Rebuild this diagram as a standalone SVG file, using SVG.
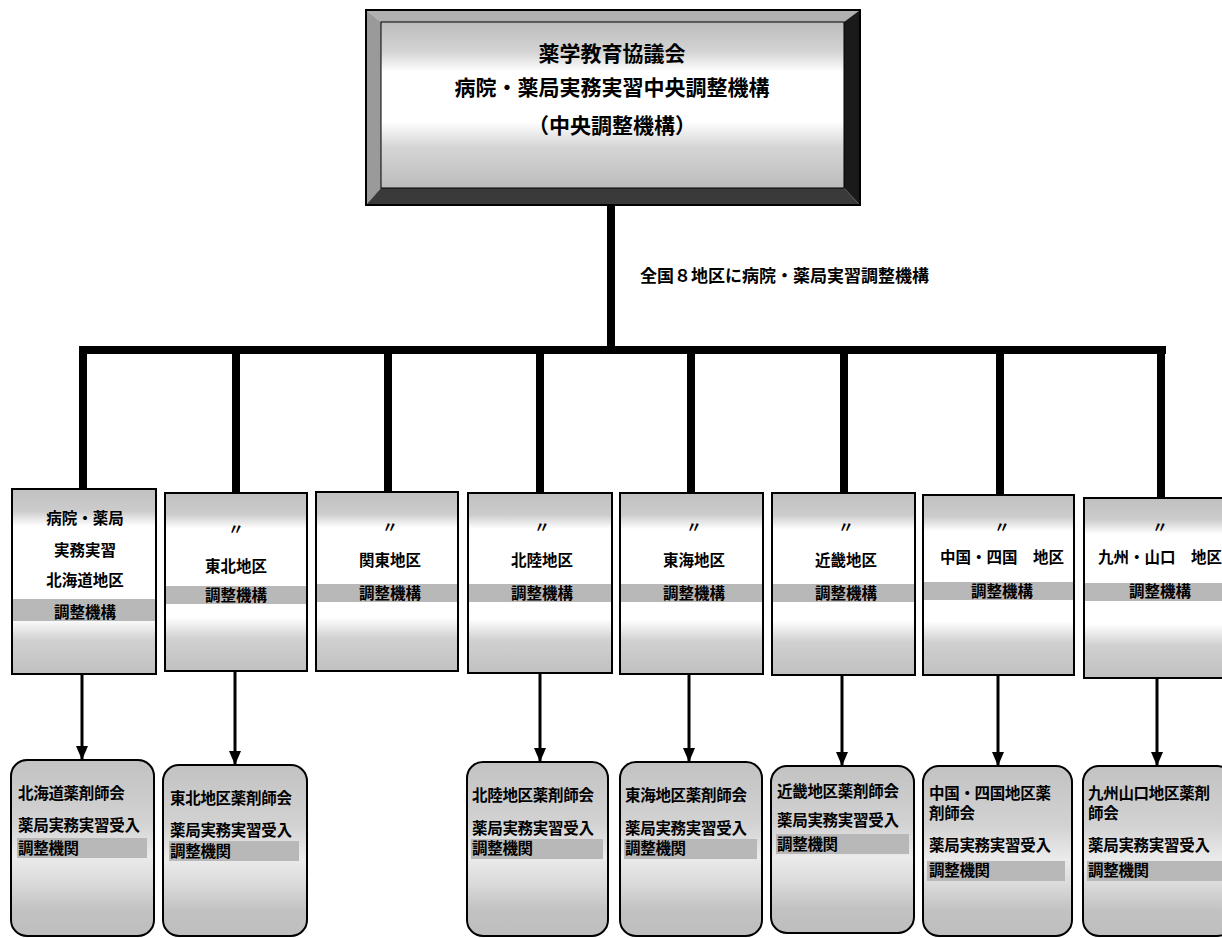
<svg xmlns="http://www.w3.org/2000/svg" width="1222" height="938" viewBox="0 0 1222 938">
<defs>
<linearGradient id="gFace" x1="0" y1="0" x2="0" y2="1">
<stop offset="0" stop-color="#bcbcbc"/><stop offset="0.18" stop-color="#d4d4d4"/><stop offset="0.3" stop-color="#ffffff"/><stop offset="0.6" stop-color="#ffffff"/><stop offset="0.75" stop-color="#d6d6d6"/><stop offset="1" stop-color="#bcbcbc"/>
</linearGradient>
<linearGradient id="gUp" x1="0" y1="0" x2="0" y2="1">
<stop offset="0" stop-color="#c0c0c0"/><stop offset="0.12" stop-color="#cccccc"/><stop offset="0.2" stop-color="#ffffff"/><stop offset="0.7" stop-color="#ffffff"/><stop offset="0.82" stop-color="#d0d0d0"/><stop offset="1" stop-color="#c0c0c0"/>
</linearGradient>
<linearGradient id="gLow" x1="0" y1="0" x2="0" y2="1">
<stop offset="0" stop-color="#c2c2c2"/><stop offset="0.35" stop-color="#d2d2d2"/><stop offset="0.55" stop-color="#ebebeb"/><stop offset="0.7" stop-color="#dadada"/><stop offset="0.85" stop-color="#c2c2c2"/><stop offset="1" stop-color="#bebebe"/>
</linearGradient>
<marker id="ah" viewBox="0 0 14 12" refX="14" refY="6" markerWidth="14" markerHeight="12" markerUnits="userSpaceOnUse" orient="auto">
<path d="M0,0 L14,6 L0,12 Z" fill="#000"/>
</marker>
</defs>
<style>
text{font-family:"Noto Sans CJK JP","Noto Sans CJK SC",sans-serif;font-weight:bold;fill:#000}
.t1{font-size:21px;text-anchor:middle}
.lbl{font-size:17px}
.up{fill:url(#gUp);stroke:#000;stroke-width:2}
.low{fill:url(#gLow);stroke:#000;stroke-width:2}
.ut{font-size:15.5px;text-anchor:middle}
.lt{font-size:15.5px;letter-spacing:-0.3px}
.band{fill:#b8b8b8}
.thick{stroke:#000;stroke-width:8;fill:none}
.arr{stroke:#000;stroke-width:3;fill:none;marker-end:url(#ah)}
</style>
<rect width="1222" height="938" fill="#fff"/>

<g id="central">
<rect x="366" y="10" width="494" height="195" fill="#fff" stroke="#000" stroke-width="2"/>
<polygon points="366,10 860,10 844,22 381,22" fill="#b0b0b0"/>
<polygon points="366,10 381,22 381,188 366,205" fill="#9a9a9a"/>
<polygon points="860,10 860,205 844,188 844,22" fill="#1a1a1a"/>
<polygon points="366,205 381,188 844,188 860,205" fill="#3a3a3a"/>
<rect x="381" y="22" width="463" height="166" fill="url(#gFace)" stroke="#000" stroke-width="1"/>
<rect x="366" y="10" width="494" height="195" fill="none" stroke="#000" stroke-width="2"/>
<text class="t1" x="612" y="61">薬学教育協議会</text>
<text class="t1" x="612" y="95">病院・薬局実務実習中央調整機構</text>
<text class="t1" x="612" y="133">（中央調整機構）</text>
</g>

<g id="connectors">
<line class="thick" x1="611" y1="205" x2="611" y2="354"/>
<line class="thick" x1="79" y1="350" x2="1166" y2="350"/>
<line class="thick" x1="83" y1="350" x2="83" y2="490"/>
<line class="thick" x1="236" y1="350" x2="236" y2="494"/>
<line class="thick" x1="388" y1="350" x2="388" y2="493"/>
<line class="thick" x1="540" y1="350" x2="540" y2="494"/>
<line class="thick" x1="691" y1="350" x2="691" y2="494"/>
<line class="thick" x1="844" y1="350" x2="844" y2="494"/>
<line class="thick" x1="1000" y1="350" x2="1000" y2="495"/>
<line class="thick" x1="1161" y1="350" x2="1161" y2="499"/>
<line class="arr" x1="82" y1="674" x2="82" y2="760"/>
<line class="arr" x1="235" y1="671" x2="235" y2="765"/>
<line class="arr" x1="540" y1="673" x2="540" y2="762"/>
<line class="arr" x1="689" y1="674" x2="689" y2="762"/>
<line class="arr" x1="842" y1="675" x2="842" y2="766"/>
<line class="arr" x1="998" y1="675" x2="998" y2="766"/>
<line class="arr" x1="1157" y1="678" x2="1157" y2="766"/>
<text class="lbl" x="640" y="282">全国８地区に病院・薬局実習調整機構</text>
</g>

<g id="r1">
<rect class="up" x="12" y="489" width="144" height="185"/>
<rect class="band" x="13" y="599" width="142" height="22"/>
<text class="ut" x="85" y="524">病院・薬局</text>
<text class="ut" x="85" y="556">実務実習</text>
<text class="ut" x="85" y="586">北海道地区</text>
<text class="ut" x="85" y="618">調整機構</text>
</g>
<g id="r2">
<rect class="up" x="165" y="493" width="142" height="178"/>
<rect class="band" x="166" y="586" width="140" height="18"/>
<text class="ut" x="236" y="535">〃</text>
<text class="ut" x="236" y="572">東北地区</text>
<text class="ut" x="236" y="601">調整機構</text>
</g>
<g id="r3">
<rect class="up" x="316" y="492" width="142" height="179"/>
<rect class="band" x="317" y="584" width="140" height="18"/>
<text class="ut" x="390" y="533">〃</text>
<text class="ut" x="390" y="566">関東地区</text>
<text class="ut" x="390" y="599">調整機構</text>
</g>
<g id="r4">
<rect class="up" x="468" y="493" width="144" height="180"/>
<rect class="band" x="469" y="584" width="142" height="18"/>
<text class="ut" x="542" y="533">〃</text>
<text class="ut" x="542" y="566">北陸地区</text>
<text class="ut" x="542" y="599">調整機構</text>
</g>
<g id="r5">
<rect class="up" x="620" y="493" width="143" height="181"/>
<rect class="band" x="621" y="584" width="141" height="18"/>
<text class="ut" x="694" y="533">〃</text>
<text class="ut" x="694" y="566">東海地区</text>
<text class="ut" x="694" y="599">調整機構</text>
</g>
<g id="r6">
<rect class="up" x="772" y="493" width="143" height="182"/>
<rect class="band" x="773" y="584" width="141" height="18"/>
<text class="ut" x="846" y="533">〃</text>
<text class="ut" x="846" y="566">近畿地区</text>
<text class="ut" x="846" y="599">調整機構</text>
</g>
<g id="r7">
<rect class="up" x="923" y="495" width="151" height="180"/>
<rect class="band" x="924" y="582" width="149" height="18"/>
<text class="ut" x="1002" y="533">〃</text>
<text class="ut" x="1002" y="563">中国・四国　地区</text>
<text class="ut" x="1002" y="597">調整機構</text>
</g>
<g id="r8">
<rect class="up" x="1084" y="498" width="150" height="180"/>
<rect class="band" x="1085" y="583" width="148" height="18"/>
<text class="ut" x="1160" y="533">〃</text>
<text class="ut" x="1160" y="563">九州・山口　地区</text>
<text class="ut" x="1160" y="597">調整機構</text>
</g>

<g id="a1">
<rect class="low" x="11" y="760" width="143" height="176" rx="16"/>
<rect class="band" x="17" y="838" width="130" height="20"/>
<text class="lt" x="18" y="799">北海道薬剤師会</text>
<text class="lt" x="18" y="831">薬局実務実習受入</text>
<text class="lt" x="18" y="854">調整機関</text>
</g>
<g id="a2">
<rect class="low" x="163" y="765" width="144" height="171" rx="16"/>
<rect class="band" x="169" y="841" width="130" height="20"/>
<text class="lt" x="170" y="804">東北地区薬剤師会</text>
<text class="lt" x="170" y="836">薬局実務実習受入</text>
<text class="lt" x="170" y="857">調整機関</text>
</g>
<g id="a4">
<rect class="low" x="467" y="762" width="141" height="174" rx="16"/>
<rect class="band" x="471" y="839" width="132" height="20"/>
<text class="lt" x="472" y="801">北陸地区薬剤師会</text>
<text class="lt" x="472" y="834">薬局実務実習受入</text>
<text class="lt" x="472" y="854">調整機関</text>
</g>
<g id="a5">
<rect class="low" x="620" y="762" width="142" height="174" rx="16"/>
<rect class="band" x="624" y="839" width="133" height="20"/>
<text class="lt" x="625" y="801">東海地区薬剤師会</text>
<text class="lt" x="625" y="834">薬局実務実習受入</text>
<text class="lt" x="625" y="854">調整機関</text>
</g>
<g id="a6">
<rect class="low" x="771" y="766" width="143" height="167" rx="16"/>
<rect class="band" x="776" y="834" width="133" height="20"/>
<text class="lt" x="777" y="797">近畿地区薬剤師会</text>
<text class="lt" x="777" y="826">薬局実務実習受入</text>
<text class="lt" x="777" y="850">調整機関</text>
</g>
<g id="a7">
<rect class="low" x="923" y="766" width="149" height="170" rx="16"/>
<rect class="band" x="927" y="861" width="138" height="20"/>
<text class="lt" x="929" y="799">中国・四国地区薬</text>
<text class="lt" x="929" y="819">剤師会</text>
<text class="lt" x="929" y="851">薬局実務実習受入</text>
<text class="lt" x="929" y="876">調整機関</text>
</g>
<g id="a8">
<rect class="low" x="1083" y="766" width="150" height="170" rx="16"/>
<rect class="band" x="1087" y="861" width="138" height="20"/>
<text class="lt" x="1088" y="799">九州山口地区薬剤</text>
<text class="lt" x="1088" y="819">師会</text>
<text class="lt" x="1088" y="851">薬局実務実習受入</text>
<text class="lt" x="1088" y="876">調整機関</text>
</g>
</svg>
